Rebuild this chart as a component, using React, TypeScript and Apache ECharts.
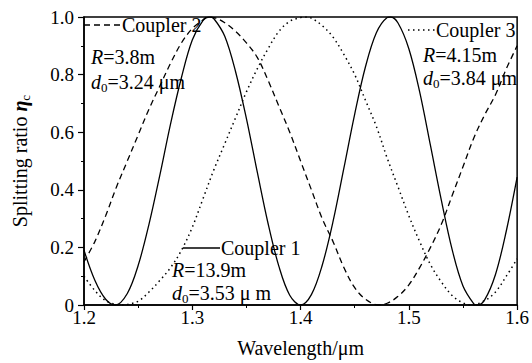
import React, { useEffect, useRef } from 'react';
import * as echarts from 'echarts';

const FONT = '"Liberation Serif", "Times New Roman", serif';

// Coupler 1 (solid)
const wavelength1 = [1.2, 1.21, 1.22, 1.229, 1.24, 1.25, 1.26, 1.27, 1.28, 1.29, 1.3, 1.31, 1.316, 1.32, 1.33, 1.34, 1.35, 1.36, 1.37, 1.38, 1.39, 1.4, 1.41, 1.42, 1.43, 1.44, 1.45, 1.46, 1.47, 1.48, 1.483, 1.49, 1.5, 1.51, 1.52, 1.53, 1.54, 1.55, 1.56, 1.563, 1.57, 1.58, 1.59, 1.6];
const coupler1 = [0.19, 0.086, 0.02, 0, 0.04, 0.137, 0.28, 0.45, 0.63, 0.79, 0.92, 0.988, 1, 0.994, 0.933, 0.81, 0.647, 0.462, 0.283, 0.134, 0.034, 0, 0.036, 0.138, 0.29, 0.475, 0.663, 0.828, 0.945, 0.998, 1, 0.979, 0.89, 0.74, 0.553, 0.364, 0.192, 0.066, 0.004, 0, 0.018, 0.106, 0.257, 0.444];

// Coupler 2 (dashed)
const wavelength2 = [1.2, 1.21, 1.22, 1.23, 1.24, 1.25, 1.26, 1.27, 1.28, 1.29, 1.3, 1.31, 1.314, 1.32, 1.33, 1.34, 1.35, 1.36, 1.37, 1.38, 1.39, 1.4, 1.41, 1.42, 1.43, 1.44, 1.45, 1.46, 1.472, 1.48, 1.49, 1.5, 1.51, 1.52, 1.53, 1.54, 1.55, 1.56, 1.57, 1.58, 1.59, 1.6];
const coupler2 = [0.15, 0.22, 0.31, 0.41, 0.5, 0.59, 0.68, 0.76, 0.84, 0.91, 0.96, 0.99, 1, 0.998, 0.98, 0.95, 0.91, 0.86, 0.78, 0.69, 0.6, 0.5, 0.4, 0.3, 0.22, 0.13, 0.06, 0.02, 0, 0.006, 0.03, 0.07, 0.13, 0.2, 0.28, 0.38, 0.48, 0.58, 0.66, 0.73, 0.82, 0.9];

// Coupler 3 (dotted)
const wavelength3 = [1.2, 1.21, 1.22, 1.23, 1.237, 1.24, 1.25, 1.26, 1.27, 1.28, 1.29, 1.3, 1.31, 1.32, 1.33, 1.34, 1.35, 1.36, 1.37, 1.38, 1.39, 1.4, 1.404, 1.41, 1.42, 1.43, 1.44, 1.45, 1.46, 1.47, 1.48, 1.49, 1.5, 1.51, 1.52, 1.53, 1.54, 1.55, 1.558, 1.57, 1.58, 1.59, 1.6];
const coupler3 = [0.1, 0.05, 0.015, 0.002, 0, 0.002, 0.013, 0.045, 0.085, 0.13, 0.19, 0.27, 0.37, 0.47, 0.56, 0.65, 0.74, 0.82, 0.89, 0.95, 0.985, 0.998, 1, 0.996, 0.97, 0.93, 0.87, 0.8, 0.71, 0.62, 0.51, 0.41, 0.31, 0.22, 0.14, 0.08, 0.033, 0.007, 0, 0.015, 0.045, 0.1, 0.16];

const xTickLabels = ['1.2', '1.3', '1.4', '1.5', '1.6'];
const yTickLabels = ['0', '0.2', '0.4', '0.6', '0.8', '1.0'];

const pairs = (xs: number[], ys: number[]) => xs.map((x, i) => [x, ys[i]]);

const txt = (size: number) => ({ fontSize: size, fontFamily: FONT, fill: '#000' });

function annotation(x: number, y: number, text: string) {
  return {
    type: 'text',
    x,
    y,
    z: 100,
    style: {
      text,
      ...txt(20),
      verticalAlign: 'middle',
      align: 'left',
      rich: {
        n: { ...txt(20), lineHeight: 23 },
        i: { ...txt(20), fontStyle: 'italic', lineHeight: 23 },
        s: { ...txt(13), lineHeight: 13, verticalAlign: 'bottom' },
      },
    },
  };
}

export default function App() {
  const ref = useRef<HTMLDivElement>(null);
  useEffect(() => {
    const chart = echarts.init(ref.current!, null, { renderer: 'svg' });
    const axisLineStyle = { color: '#000', width: 1.5 };
    const option: any = {
      animation: false,
      backgroundColor: '#fff',
      textStyle: { fontFamily: FONT, color: '#000' },
      grid: {
        left: 83, right: 13, top: 17, bottom: 56,
        show: true, borderColor: '#000', borderWidth: 1.5, backgroundColor: 'transparent',
      },
      xAxis: {
        type: 'value', min: 1.2, max: 1.6, interval: 0.1,
        axisLine: { show: true, onZero: false, lineStyle: axisLineStyle },
        axisTick: { show: true, inside: false, length: 5, lineStyle: { color: '#000', width: 1.2 } },
        minorTick: { show: true, splitNumber: 2, length: 3, lineStyle: { color: '#000', width: 1 } },
        splitLine: { show: false },
        axisLabel: {
          fontSize: 19, fontFamily: FONT, color: '#000', margin: 3,
          formatter: (v: number) => xTickLabels[Math.round((v - 1.2) / 0.1)] ?? '',
        },
        name: 'Wavelength/μm', nameLocation: 'middle', nameGap: 33,
        nameTextStyle: { fontSize: 20, fontFamily: FONT, color: '#000' },
      },
      yAxis: {
        type: 'value', min: 0, max: 1, interval: 0.2,
        axisLine: { show: true, onZero: false, lineStyle: axisLineStyle },
        axisTick: { show: true, inside: false, length: 6, lineStyle: { color: '#000', width: 1.2 } },
        minorTick: { show: true, splitNumber: 2, length: 3, lineStyle: { color: '#000', width: 1 } },
        splitLine: { show: false },
        axisLabel: {
          fontSize: 19, fontFamily: FONT, color: '#000', margin: 10,
          formatter: (v: number) => yTickLabels[Math.round(v / 0.2)] ?? '',
        },
        name: 'Splitting ratio {i|η}{s|c}', nameLocation: 'middle', nameRotate: 90, nameGap: 52,
        nameTextStyle: {
          fontSize: 20, fontFamily: FONT, color: '#000', lineHeight: 24,
          rich: {
            i: { fontSize: 20, fontFamily: FONT, color: '#000', fontStyle: 'italic', fontWeight: 'bold', lineHeight: 24 },
            s: { fontSize: 13, fontFamily: FONT, color: '#000', lineHeight: 13, verticalAlign: 'bottom' },
          },
        },
      },
      series: [
        {
          name: 'Coupler 1', type: 'line', data: pairs(wavelength1, coupler1),
          smooth: 0.35, symbol: 'none', showSymbol: false,
          lineStyle: { color: '#000', width: 1.3, type: 'solid' },
        },
        {
          name: 'Coupler 2', type: 'line', data: pairs(wavelength2, coupler2),
          smooth: 0.35, symbol: 'none', showSymbol: false,
          lineStyle: { color: '#000', width: 1.3, type: [6, 4] },
        },
        {
          name: 'Coupler 3', type: 'line', data: pairs(wavelength3, coupler3),
          smooth: 0.35, symbol: 'none', showSymbol: false,
          lineStyle: { color: '#000', width: 1.5, type: [1.5, 3.5] },
        },
      ],
      graphic: [
        { type: 'line', shape: { x1: 84, y1: 25, x2: 121, y2: 25 }, style: { stroke: '#000', lineWidth: 1.3, lineDash: [6, 4] } },
        annotation(122, 25, '{n|Coupler 2}'),
        annotation(91, 57, '{i|R}{n|=3.8m}'),
        annotation(91, 82, '{i|d}{s|0}{n|=3.24 μm}'),
        { type: 'line', shape: { x1: 408, y1: 30, x2: 435, y2: 30 }, style: { stroke: '#000', lineWidth: 1.5, lineDash: [1.5, 3.5] } },
        annotation(436, 30, '{n|Coupler 3}'),
        annotation(423, 55, '{i|R}{n|=4.15m}'),
        annotation(423, 78, '{i|d}{s|0}{n|=3.84 μm}'),
        { type: 'line', shape: { x1: 183, y1: 248, x2: 220, y2: 248 }, style: { stroke: '#000', lineWidth: 1.3 } },
        annotation(221, 248, '{n|Coupler 1}'),
        annotation(172, 270, '{i|R}{n|=13.9m}'),
        annotation(172, 293, '{i|d}{s|0}{n|=3.53 μ m}'),
      ],
    };
    chart.setOption(option);
    return () => chart.dispose();
  }, []);
  return <div ref={ref} style={{ position: 'fixed', left: 0, top: 0, width: 532, height: 363 }} />;
}
